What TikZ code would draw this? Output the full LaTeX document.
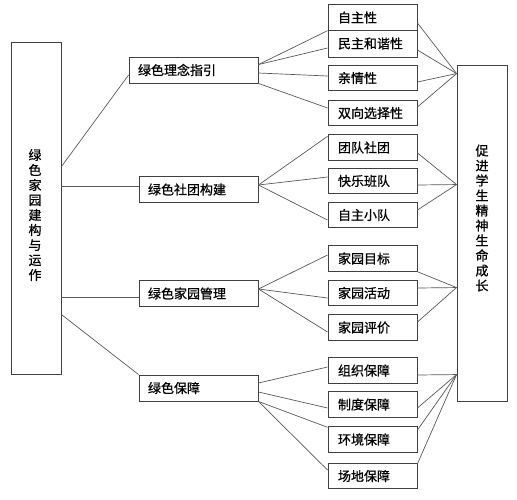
\documentclass[tikz,border=0pt]{standalone}
\usepackage{fontspec}
\newfontfamily\cjk[FakeBold=0.8]{Noto Sans CJK SC}
\usetikzlibrary{calc}
\definecolor{boxline}{HTML}{404040}
\definecolor{conn}{HTML}{5A5A5A}
\begin{document}
\begin{tikzpicture}[x=1pt,y=-1pt,
  box/.style={draw=boxline,line width=0.9pt,inner sep=0pt,font=\cjk\fontsize{13}{15}\selectfont},
  lvlone/.style={box,minimum height=26pt,text width=101pt,inner xsep=9pt,align=left},
  lvltwo/.style={box,minimum height=25.5pt,text width=69pt,inner xsep=10pt,align=left},
  tall/.style={box,minimum width=50pt},
  vtext/.style={font=\cjk\fontsize{13}{15}\selectfont,align=center,inner sep=0pt},
  link/.style={draw=conn,line width=0.7pt}]
\useasboundingbox (0,0) rectangle (517,499);
\fill[white] (0,0) rectangle (517,499);

% outer tall boxes
\node[tall,minimum height=332pt] (L) at (36,208) {};
\node[vtext] (Lt) at (35,215) {绿\\色\\家\\园\\建\\构\\与\\运\\作};
\node[tall,minimum height=336pt] (R) at (482,233) {};
\node[vtext] (Rt) at (482,218) {促\\进\\学\\生\\精\\神\\生\\命\\成\\长};

% level one
\node[lvlone,text width=111pt] (g1) at (193.5,70) {绿色理念指引};
\node[lvlone] (g2) at (198.5,189.5) {绿色社团构建};
\node[lvlone] (g3) at (198.5,293.5) {绿色家园管理};
\node[lvlone] (g4) at (198.5,388) {绿色保障};

% level two
\node[lvltwo] (a1) at (372.5,17.5) {自主性};
\node[lvltwo,minimum height=27pt] (a2) at (372.5,43.5) {民主和谐性};
\node[lvltwo] (a3) at (372.5,78) {亲情性};
\node[lvltwo] (a4) at (372.5,113) {双向选择性};
\node[lvltwo] (b1) at (372.5,147.5) {团队社团};
\node[lvltwo] (b2) at (372.5,181) {快乐班队};
\node[lvltwo] (b3) at (372.5,215) {自主小队};
\node[lvltwo] (c1) at (372.5,258.5) {家园目标};
\node[lvltwo] (c2) at (372.5,293) {家园活动};
\node[lvltwo] (c3) at (372.5,327.5) {家园评价};
\node[lvltwo] (d1) at (372.5,370.5) {组织保障};
\node[lvltwo] (d2) at (372.5,404.5) {制度保障};
\node[lvltwo] (d3) at (372.5,439.5) {环境保障};
\node[lvltwo] (d4) at (372.5,476) {场地保障};

% hubs on the right box
\coordinate (h1) at ($(R.north west)+(0,9)$);
\coordinate (h2) at ($(R.north west)+(0,120)$);
\coordinate (h3) at ($(R.north west)+(0,223)$);
\coordinate (h4) at ($(R.north west)+(0,310)$);

% left box to level one
\draw[link] ($(L.north east)+(0,125)$) -- ($(g1.west)+(0,5)$);
\draw[link] ($(L.east |- g2.west)+(0,-3.5)$) -- ($(g2.west)+(0,-3.5)$);
\draw[link] ($(L.east |- g3.west)+(0,3.5)$) -- ($(g3.west)+(0,3.5)$);
\draw[link] ($(L.north east)+(0,273)$) -- (g4.north west);

% group 1
\draw[link] ($(g1.north east)+(0,8)$) -- (a1.south west);
\draw[link] ($(g1.north east)+(0,8)$) -- ($(a2.west)+(0,4.5)$);
\draw[link] ($(g1.east)+(0,3)$) -- ($(a3.west)+(0,-2)$);
\draw[link] (g1.south east) -- ($(a4.west)+(0,-5)$);
\draw[link] ($(a1.east)+(0,5.5)$) -- (h1);
\draw[link] ($(a2.east)+(0,6.5)$) -- (h1);
\draw[link] ($(a3.east)+(0,4)$) -- (h1);
\draw[link] ($(a4.east)+(0,-6)$) -- (h1);

% group 2
\draw[link] ($(g2.east)+(0,-4.5)$) -- ($(b1.north west)+(0,2)$);
\draw[link] ($(g2.east)+(0,-4.5)$) -- ($(b2.west)+(0,-4)$);
\draw[link] ($(g2.east)+(0,-4.5)$) -- ($(b3.west)+(0,5)$);
\draw[link] ($(b1.east)+(0,5.5)$) -- (h2);
\draw[link] ($(b2.east)+(0,4)$) -- (h2);
\draw[link] ($(b3.east)+(0,-5)$) -- (h2);

% group 3
\draw[link] ($(g3.east)+(0,-4.5)$) -- ($(c1.west)+(0,-3.5)$);
\draw[link] ($(g3.east)+(0,-4.5)$) -- ($(c2.west)+(0,5)$);
\draw[link] ($(g3.east)+(0,-4.5)$) -- ($(c3.west)+(0,4.5)$);
\draw[link] (c1.south east) -- (h3);
\draw[link] ($(c2.east)+(0,-5)$) -- (h3);
\draw[link] ($(c3.east)+(0,-5.5)$) -- (h3);

% group 4
\draw[link] ($(g4.east)+(0,-5)$) -- ($(d1.west)+(0,-3.5)$);
\draw[link] ($(g4.east)+(0,4)$) -- ($(d2.west)+(0,3.5)$);
\draw[link] (g4.south east) -- ($(d3.north west)+(0,1)$);
\draw[link] (g4.south east) -- ($(d4.west)+(0,-6)$);
\draw[link] ($(d1.east)+(0,4.5)$) -- (h4);
\draw[link] ($(d2.east)+(0,3.5)$) -- (h4);
\draw[link] ($(d3.east)+(0,-9.5)$) -- (h4);
\draw[link] ($(d4.north east)+(0,1)$) -- (h4);
\end{tikzpicture}
\end{document}
